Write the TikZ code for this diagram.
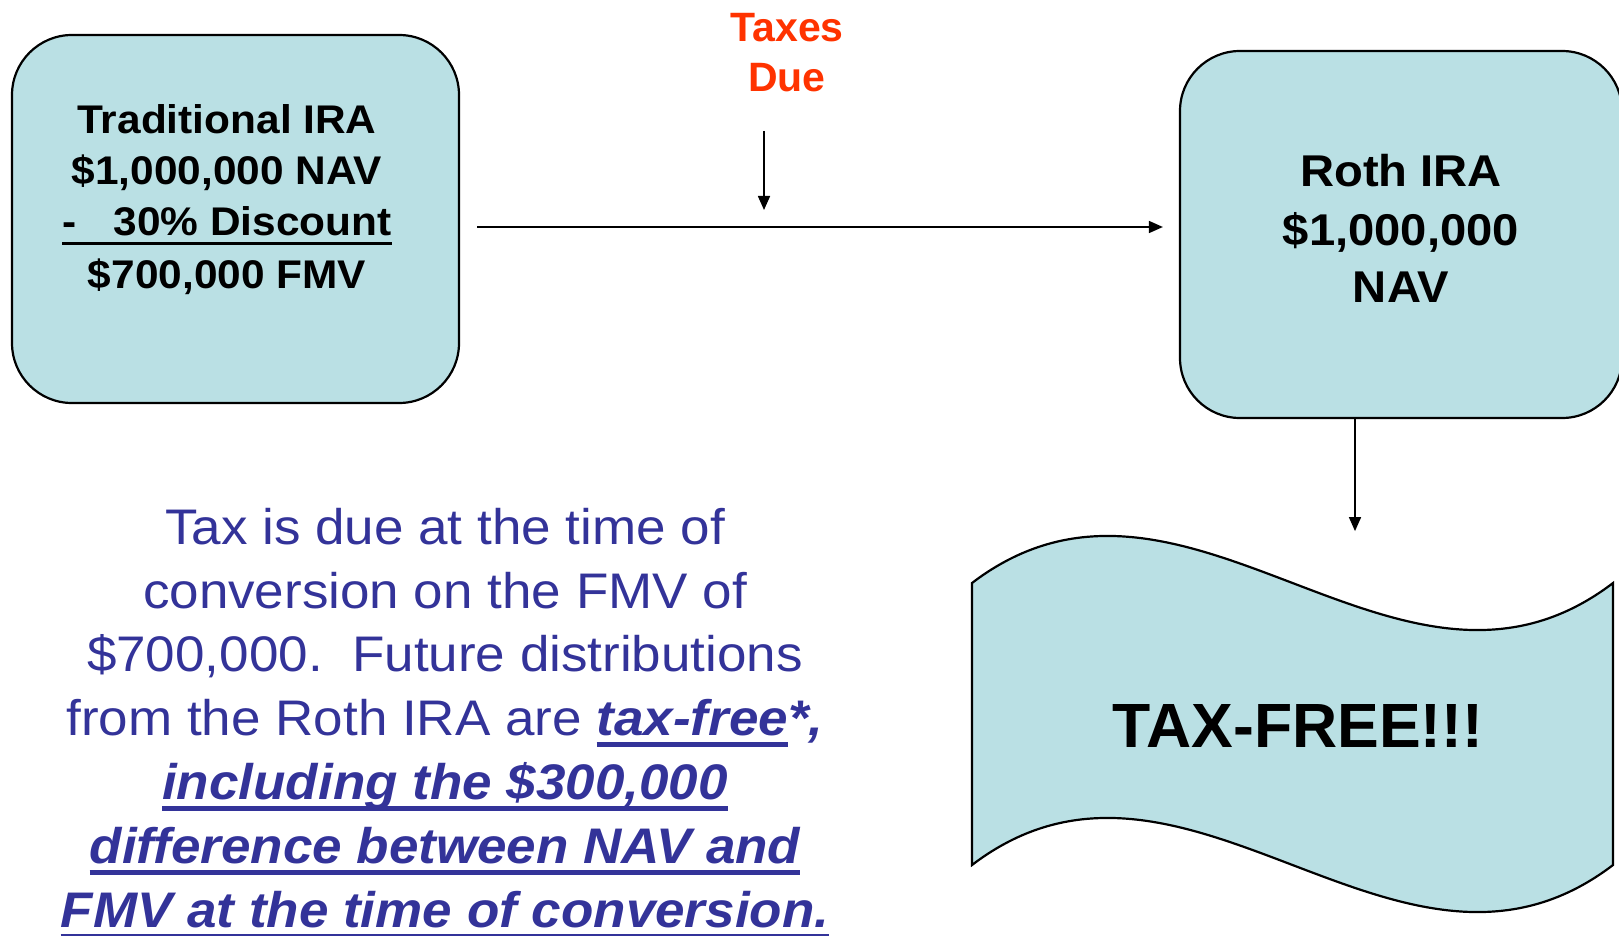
\documentclass[tikz,border=0pt]{standalone}
\usepackage{fontspec}
\setmainfont{Liberation Sans}
\newfontfamily\widesans[FakeStretch=1.06]{Liberation Sans}
\usetikzlibrary{arrows.meta,calc}
\definecolor{boxfill}{RGB}{186,224,228}
\definecolor{taxred}{RGB}{255,51,0}
\definecolor{noteblue}{RGB}{51,51,153}
\newcommand\myul[3]{\leavevmode\setbox0\hbox{#3}\rlap{\rule[-#1]{\wd0}{#2}}\box0}
\begin{document}
\begin{tikzpicture}[x=1pt,y=-1pt,
  shapefill/.style={draw=black, line width=2.2pt, fill=boxfill},
  ira/.style={shapefill, rounded corners=60pt, inner sep=0pt},
  arr/.style={draw=black, line width=1.6pt, -{Triangle[length=14pt,width=12pt]}},
  boxline/.style={anchor=base, inner sep=0pt, font=\widesans\bfseries\fontsize{40}{48}\selectfont},
  rothline/.style={anchor=base, inner sep=0pt, font=\widesans\bfseries\fontsize{44.5}{54}\selectfont},
  taxline/.style={anchor=base, inner sep=0pt, text=taxred, font=\bfseries\fontsize{41}{50}\selectfont},
  noteline/.style={anchor=base, inner sep=0pt, text=noteblue, font=\widesans\fontsize{50}{60}\selectfont},
  noteem/.style={noteline, font=\widesans\bfseries\itshape\fontsize{50}{60}\selectfont}]
\useasboundingbox (0,0) rectangle (1619,936);
\clip (0,0) rectangle (1619,936);
% boxes
\node[ira, minimum width=447pt, minimum height=368pt] (trad) at (235.5,219) {};
\node[ira, minimum width=442pt, minimum height=367pt] (roth) at (1401,234.5) {};
% traditional IRA text
\node[boxline] (t1) at (227,134) {Traditional IRA};
\node[boxline] (t2) at (227,185) {\$1,000,000 NAV};
\node[boxline] (t3) at (227,236) {\myul{9.5pt}{3pt}{-\hspace{37pt}30\% Discount}};
\node[boxline] (t4) at (227,288) {\$700,000 FMV};
% Roth text
\node[rothline] (r1) at (1401,187) {Roth IRA};
\node[rothline] (r2) at (1401,245) {\$1,000,000};
\node[rothline] (r3) at (1401,302) {NAV};
% taxes due
\node[taxline] (x1) at (787,42) {Taxes};
\node[taxline] (x2) at (787,92) {Due};
% wave
\draw[shapefill] (972,583) .. controls (1185.7,420) and (1399.3,746) .. (1613,583)
  -- (1613,865) .. controls (1399.3,1028) and (1185.7,702) .. (972,865) -- cycle;
\node[anchor=base, inner sep=0pt, font=\bfseries\fontsize{62.5}{70}\selectfont] (tf) at (1298,747) {TAX-FREE!!!};
% arrows
\draw[arr] ($(trad.east)+(17,8)$) -- ($(roth.west)+(-16,-7.5)$);
\draw[arr] ($(x2.base)+(-23,39)$) -- ++(0,79);
\draw[arr] ($(roth.south)+(-46,0)$) -- ++(0,112);
% note text
\node[noteline] (b1) at (445,544) {Tax is due at the time of};
\node[noteline] (b2) at (445,608) {conversion on the FMV of};
\node[noteline] (b3) at (445,671) {\$700,000.\ \ Future distributions};
\node[noteline] (b4) at (445,735) {from the Roth IRA are \myul{12pt}{5pt}{\bfseries\itshape tax-free}{\bfseries\itshape *,}};
\node[noteem] (b5) at (445,799) {\myul{12pt}{5pt}{including the \$300,000}};
\node[noteem] (b6) at (445,863) {\myul{12pt}{5pt}{difference between NAV and}};
\node[noteem] (b7) at (445,927) {\myul{12pt}{5pt}{FMV at the time of conversion.}};
\end{tikzpicture}
\end{document}
